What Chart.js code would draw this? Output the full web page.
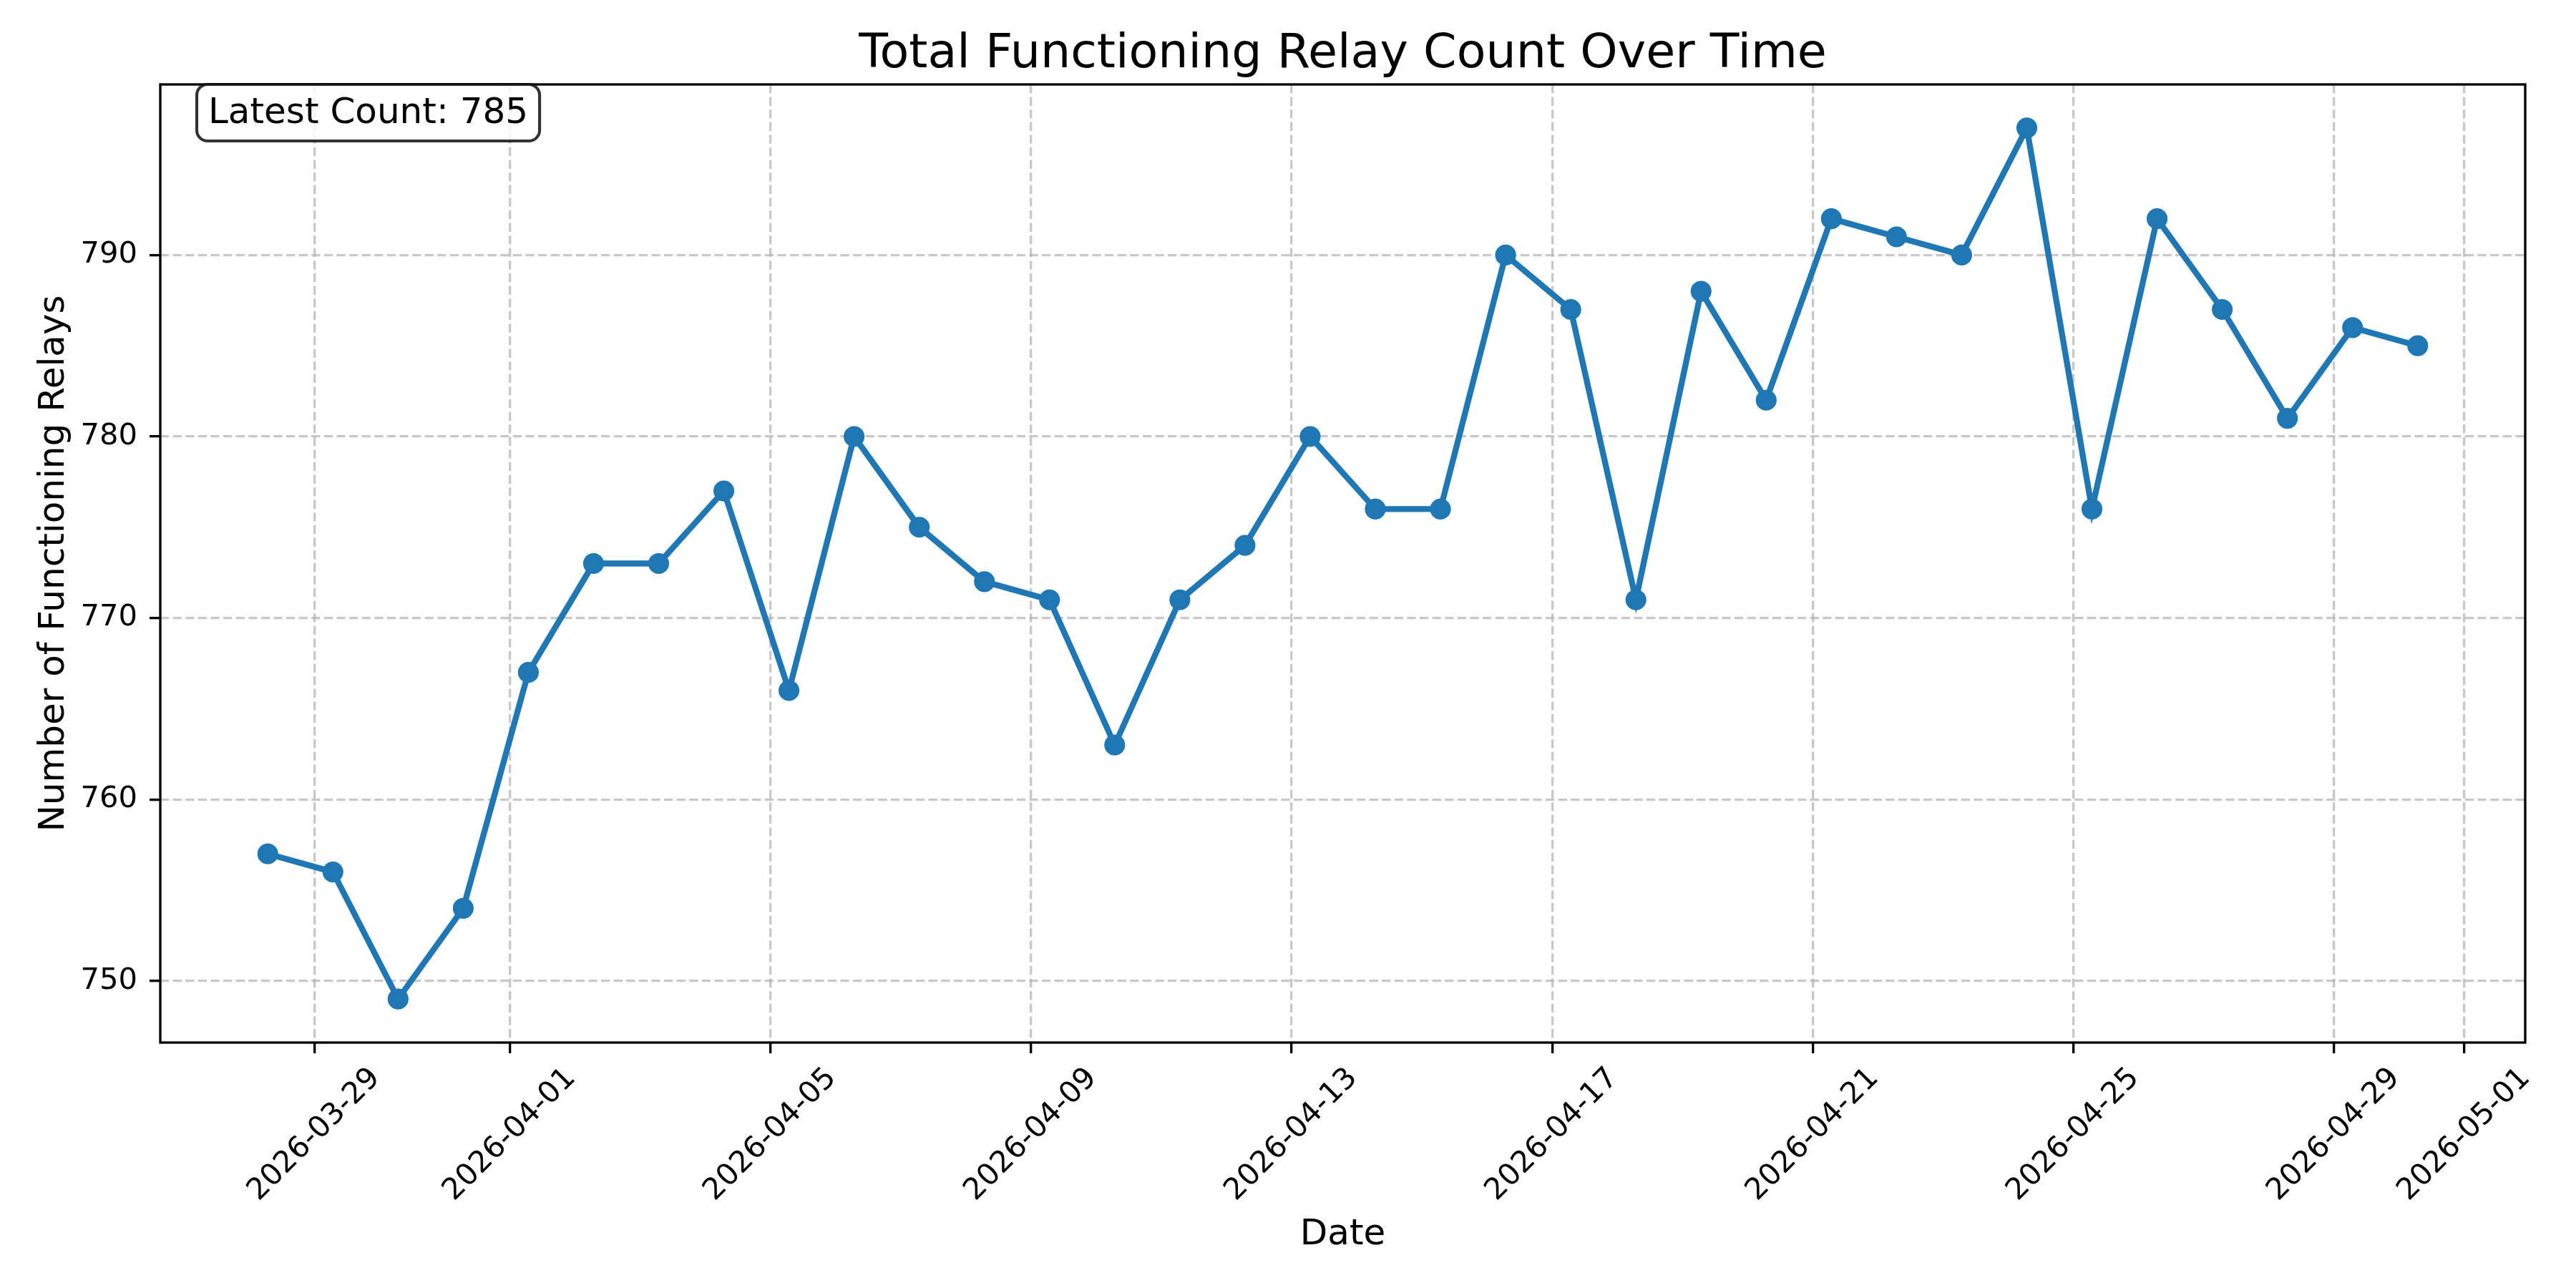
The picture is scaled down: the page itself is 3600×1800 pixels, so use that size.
<!DOCTYPE html>
<html>
<head>
<meta charset="utf-8">
<script src="https://cdn.jsdelivr.net/npm/chart.js@4.4.1/dist/chart.umd.min.js"></script>
<style>
html, body { margin: 0; padding: 0; background: #ffffff; }
canvas { display: block; }
</style>
</head>
<body>
<canvas id="chart" width="3600" height="1800"></canvas>
<script>
// ---- data ----
const dates = [
  '2026-03-28T06:50', '2026-03-29T06:50', '2026-03-30T06:50', '2026-03-31T06:50',
  '2026-04-01T06:50', '2026-04-02T06:50', '2026-04-03T06:50', '2026-04-04T06:50',
  '2026-04-05T06:50', '2026-04-06T06:50', '2026-04-07T06:50', '2026-04-08T06:50',
  '2026-04-09T06:50', '2026-04-10T06:50', '2026-04-11T06:50', '2026-04-12T06:50',
  '2026-04-13T06:50', '2026-04-14T06:50', '2026-04-15T06:50', '2026-04-16T06:50',
  '2026-04-17T06:50', '2026-04-18T06:50', '2026-04-19T06:50', '2026-04-20T06:50',
  '2026-04-21T06:50', '2026-04-22T06:50', '2026-04-23T06:50', '2026-04-24T06:50',
  '2026-04-25T06:50', '2026-04-26T06:50', '2026-04-27T06:50', '2026-04-28T06:50',
  '2026-04-29T06:50', '2026-04-30T06:50'
];
const relayCounts = [
  757, 756, 749, 754, 767, 773, 773, 777, 766, 780,
  775, 772, 771, 763, 771, 774, 780, 776, 776, 790,
  787, 771, 788, 782, 792, 791, 790, 797, 776, 792,
  787, 781, 786, 785
];
const xTickLabels = ['2026-03-29', '2026-04-01', '2026-04-05', '2026-04-09', '2026-04-13',
                     '2026-04-17', '2026-04-21', '2026-04-25', '2026-04-29', '2026-05-01'];
const yTickValues = [750, 760, 770, 780, 790];
const titleText = 'Total Functioning Relay Count Over Time';
const xAxisLabel = 'Date';
const yAxisLabel = 'Number of Functioning Relays';
const annotationText = 'Latest Count: ' + relayCounts[relayCounts.length - 1];

// ---- helpers ----
const toDay = s => Date.parse(s + 'Z') / 86400000;
const points = dates.map((d, i) => ({ x: toDay(d), y: relayCounts[i] }));
const xs = points.map(p => p.x);
const xMinD = Math.min(...xs), xMaxD = Math.max(...xs);
const yMinD = Math.min(...relayCounts), yMaxD = Math.max(...relayCounts);
const xPad = (xMaxD - xMinD) * 0.05, yPad = (yMaxD - yMinD) * 0.05;

const FONT = '"DejaVu Sans", "Liberation Sans", sans-serif';
const BLUE = '#1f77b4';
const GRID = 'rgba(176,176,176,0.7)';
const DASH = [12.3, 5.3];

Chart.defaults.font.family = FONT;
Chart.defaults.color = '#000000';

const mplPlugin = {
  id: 'mplDecor',
  afterDatasetsDraw(chart) {
    const { ctx, chartArea: a, scales: { x } } = chart;
    ctx.save();
    // axes frame (spines)
    ctx.strokeStyle = '#000000';
    ctx.lineWidth = 3.33;
    ctx.setLineDash([]);
    ctx.strokeRect(a.left, a.top, a.right - a.left, a.bottom - a.top);

    // rotated x tick labels, centred on the ticks
    ctx.fillStyle = '#000000';
    ctx.font = '41.67px ' + FONT;
    ctx.textAlign = 'center';
    ctx.textBaseline = 'middle';
    x.ticks.forEach((t, i) => {
      const px = x.getPixelForValue(t.value);
      ctx.save();
      ctx.translate(px, a.bottom + 129);
      ctx.rotate(-Math.PI / 4);
      ctx.fillText(xTickLabels[i], 0, 0);
      ctx.restore();
    });

    // annotation box
    ctx.font = '50px ' + FONT;
    ctx.textAlign = 'left';
    ctx.textBaseline = 'alphabetic';
    const tx = a.left + 67;
    const base = a.top + 54;
    const w = ctx.measureText(annotationText).width;
    const bx = tx - 16, by = a.top, bw = w + 32, bh = 79;
    ctx.beginPath();
    ctx.roundRect(bx, by, bw, bh, 15);
    ctx.fillStyle = 'rgba(255,255,255,0.8)';
    ctx.fill();
    ctx.strokeStyle = 'rgba(0,0,0,0.8)';
    ctx.lineWidth = 4.17;
    ctx.stroke();
    ctx.fillStyle = '#000000';
    ctx.fillText(annotationText, tx, base);
    ctx.restore();
  }
};

const gridOpts = {
  color: GRID,
  lineWidth: 3.33,
  drawTicks: true,
  tickLength: 15,
  tickColor: '#000000',
  tickWidth: 3.33,
  tickBorderDash: []
};

new Chart(document.getElementById('chart'), {
  type: 'line',
  data: {
    datasets: [{
      label: 'Functioning relays',
      data: points,
      borderColor: BLUE,
      backgroundColor: BLUE,
      borderWidth: 8.33,
      pointRadius: 12.5,
      pointBorderWidth: 4.17,
      pointBackgroundColor: BLUE,
      pointBorderColor: BLUE,
      tension: 0,
      fill: false
    }]
  },
  options: {
    responsive: false,
    animation: false,
    devicePixelRatio: 1,
    layout: { padding: { left: 0, right: 71, top: 0, bottom: 0 } },
    plugins: {
      legend: { display: false },
      tooltip: { enabled: false },
      title: {
        display: true,
        fullSize: false,
        text: titleText,
        color: '#000000',
        font: { size: 66.67, weight: 'normal', family: FONT, lineHeight: 1.2 },
        padding: { top: 36.7, bottom: 1.3 }
      }
    },
    scales: {
      x: {
        type: 'linear',
        min: xMinD - xPad,
        max: xMaxD + xPad,
        afterBuildTicks: s => { s.ticks = xTickLabels.map(l => ({ value: toDay(l + 'T00:00') })); },
        afterFit: s => { s.height = 343; },
        ticks: { display: false },
        border: { display: false, dash: DASH },
        grid: gridOpts,
        title: {
          display: true,
          text: xAxisLabel,
          color: '#000000',
          font: { size: 50, family: FONT, lineHeight: 1.2 },
          padding: { top: 0, bottom: 43.5 }
        }
      },
      y: {
        type: 'linear',
        min: yMinD - yPad,
        max: yMaxD + yPad,
        afterBuildTicks: s => { s.ticks = yTickValues.map(v => ({ value: v })); },
        afterFit: s => { s.width = 224; },
        ticks: {
          color: '#000000',
          font: { size: 41.67, family: FONT },
          padding: 17,
          callback: v => String(v)
        },
        border: { display: false, dash: DASH },
        grid: gridOpts,
        title: {
          display: true,
          text: yAxisLabel,
          color: '#000000',
          font: { size: 50, family: FONT, lineHeight: 1.2 },
          padding: { top: 46.5, bottom: 0 }
        }
      }
    }
  },
  plugins: [mplPlugin]
});
</script>
</body>
</html>
